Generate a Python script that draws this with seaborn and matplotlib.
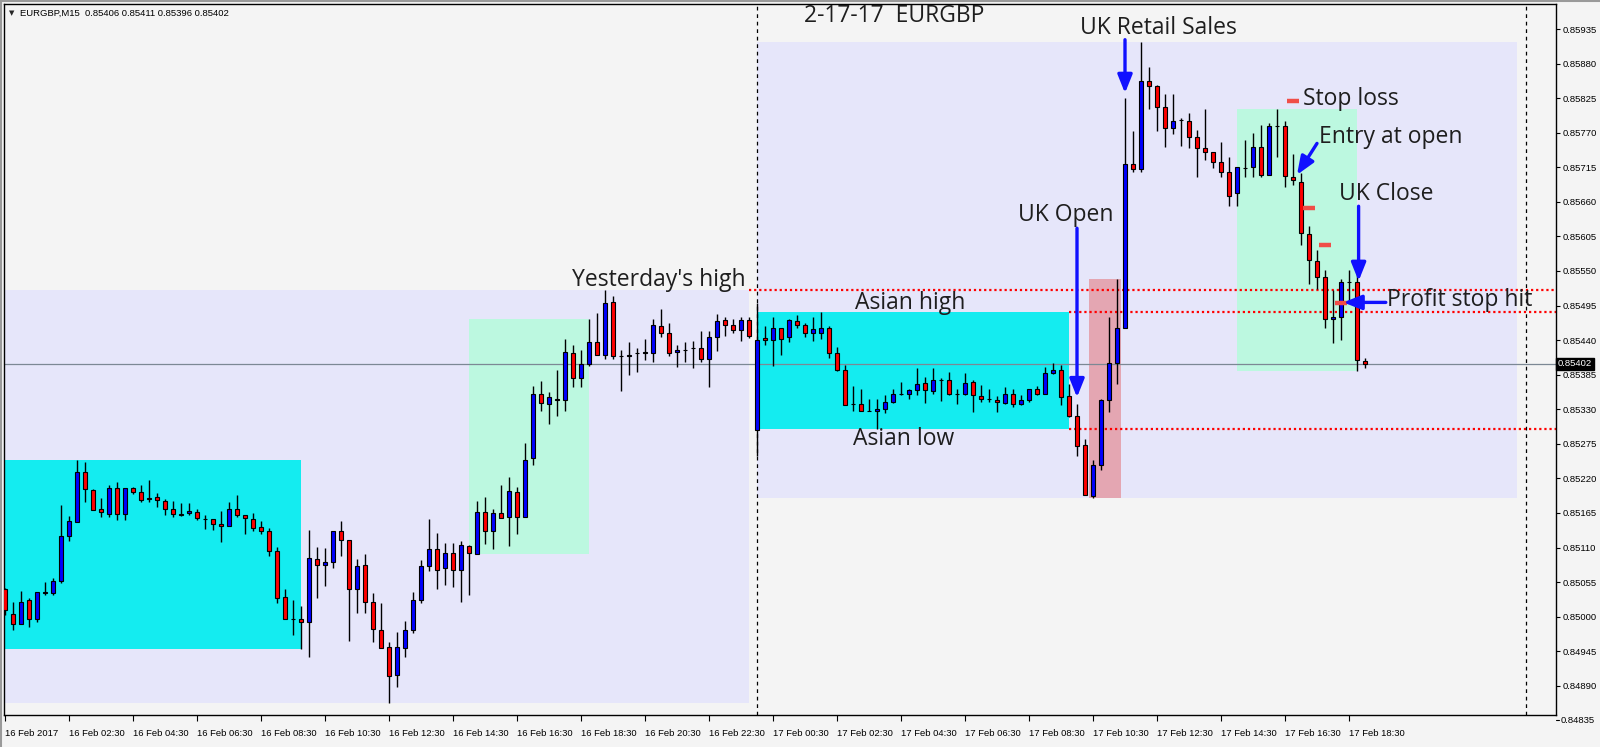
import matplotlib
matplotlib.use('Agg')
import matplotlib.pyplot as plt
import matplotlib.transforms as mtransforms
from matplotlib.lines import Line2D
import numpy as np
import pandas as pd
import seaborn as sns

# ── Data: EURGBP M15 candles, 16 Feb 00:30 -> 17 Feb 19:00 ────────────────────
open_ = [0.85044, 0.85005, 0.84988, 0.85026, 0.84996, 0.85037, 0.85037, 0.85056, 0.85129, 0.85151,
         0.85230, 0.85201, 0.85171, 0.85164, 0.85204, 0.85163, 0.85204, 0.85198, 0.85188, 0.85190,
         0.85184, 0.85171, 0.85161, 0.85165, 0.85166, 0.85155, 0.85155, 0.85148, 0.85144, 0.85171,
         0.85161, 0.85155, 0.85142, 0.85136, 0.85104, 0.85031, 0.84997, 0.84997, 0.84991, 0.85091,
         0.85082, 0.85087, 0.85136, 0.85122, 0.85044, 0.85082, 0.85024, 0.84978, 0.84951, 0.84907,
         0.84950, 0.84978, 0.85026, 0.85080, 0.85107, 0.85077, 0.85102, 0.85075, 0.85112, 0.85100,
         0.85166, 0.85136, 0.85165, 0.85158, 0.85198, 0.85158, 0.85252, 0.85355, 0.85338, 0.85347,
         0.85344, 0.85419, 0.85379, 0.85402, 0.85437, 0.85417, 0.85500, 0.85414, 0.85414, 0.85419,
         0.85419, 0.85419, 0.85462, 0.85452, 0.85421, 0.85425, 0.85427, 0.85427, 0.85410, 0.85445,
         0.85472, 0.85464, 0.85456, 0.85472, 0.85297, 0.85443, 0.85440, 0.85459, 0.85445, 0.85470,
         0.85464, 0.85452, 0.85452, 0.85459, 0.85419, 0.85392, 0.85338, 0.85338, 0.85328, 0.85327,
         0.85330, 0.85341, 0.85355, 0.85355, 0.85360, 0.85371, 0.85359, 0.85377, 0.85376, 0.85355,
         0.85355, 0.85373, 0.85351, 0.85347, 0.85344, 0.85340, 0.85355, 0.85338, 0.85344, 0.85362,
         0.85354, 0.85387, 0.85392, 0.85351, 0.85319, 0.85273, 0.85192, 0.85241, 0.85344, 0.85403,
         0.85460, 0.85720, 0.85712, 0.85853, 0.85845, 0.85811, 0.85777, 0.85790, 0.85789, 0.85763,
         0.85745, 0.85739, 0.85723, 0.85707, 0.85674, 0.85714, 0.85715, 0.85748, 0.85703, 0.85780,
         0.85780, 0.85700, 0.85691, 0.85609, 0.85566, 0.85541, 0.85474, 0.85476, 0.85533, 0.85533,
         0.85406]
high_ = [0.85045, 0.85023, 0.85041, 0.85030, 0.85040, 0.85055, 0.85061, 0.85178, 0.85160, 0.85249,
         0.85246, 0.85203, 0.85188, 0.85210, 0.85214, 0.85204, 0.85206, 0.85210, 0.85218, 0.85197,
         0.85187, 0.85184, 0.85181, 0.85181, 0.85172, 0.85162, 0.85155, 0.85168, 0.85183, 0.85194,
         0.85161, 0.85165, 0.85152, 0.85141, 0.85111, 0.85044, 0.85027, 0.85017, 0.85138, 0.85111,
         0.85109, 0.85136, 0.85152, 0.85122, 0.85092, 0.85100, 0.85037, 0.85022, 0.84960, 0.84976,
         0.84993, 0.85039, 0.85090, 0.85156, 0.85133, 0.85117, 0.85117, 0.85120, 0.85114, 0.85184,
         0.85191, 0.85171, 0.85210, 0.85222, 0.85207, 0.85277, 0.85367, 0.85375, 0.85357, 0.85393,
         0.85441, 0.85433, 0.85425, 0.85473, 0.85483, 0.85520, 0.85510, 0.85424, 0.85437, 0.85427,
         0.85441, 0.85473, 0.85489, 0.85467, 0.85432, 0.85437, 0.85438, 0.85454, 0.85454, 0.85481,
         0.85476, 0.85473, 0.85476, 0.85476, 0.85499, 0.85462, 0.85476, 0.85459, 0.85473, 0.85480,
         0.85468, 0.85476, 0.85484, 0.85462, 0.85429, 0.85400, 0.85367, 0.85362, 0.85346, 0.85347,
         0.85352, 0.85363, 0.85373, 0.85363, 0.85395, 0.85381, 0.85395, 0.85379, 0.85390, 0.85363,
         0.85387, 0.85376, 0.85368, 0.85362, 0.85351, 0.85365, 0.85363, 0.85352, 0.85363, 0.85367,
         0.85397, 0.85403, 0.85400, 0.85370, 0.85339, 0.85282, 0.85249, 0.85346, 0.85477, 0.85538,
         0.85825, 0.85773, 0.85915, 0.85874, 0.85846, 0.85831, 0.85831, 0.85793, 0.85801, 0.85774,
         0.85807, 0.85740, 0.85755, 0.85732, 0.85715, 0.85758, 0.85769, 0.85783, 0.85785, 0.85807,
         0.85789, 0.85736, 0.85706, 0.85621, 0.85584, 0.85551, 0.85520, 0.85538, 0.85552, 0.85552,
         0.85411]
low_ = [0.85003, 0.84978, 0.84988, 0.84983, 0.84992, 0.85035, 0.85035, 0.85054, 0.85121, 0.85150,
        0.85183, 0.85169, 0.85158, 0.85159, 0.85154, 0.85153, 0.85195, 0.85183, 0.85183, 0.85175,
        0.85161, 0.85159, 0.85160, 0.85162, 0.85153, 0.85140, 0.85138, 0.85119, 0.85144, 0.85159,
        0.85131, 0.85137, 0.85132, 0.85096, 0.85021, 0.84997, 0.84970, 0.84949, 0.84935, 0.85030,
        0.85049, 0.85078, 0.85096, 0.84962, 0.85006, 0.85006, 0.84960, 0.84950, 0.84863, 0.84888,
        0.84936, 0.84974, 0.85021, 0.85072, 0.85044, 0.85051, 0.85047, 0.85024, 0.85035, 0.85099,
        0.85116, 0.85107, 0.85157, 0.85113, 0.85132, 0.85158, 0.85242, 0.85328, 0.85307, 0.85320,
        0.85328, 0.85366, 0.85366, 0.85399, 0.85416, 0.85410, 0.85410, 0.85359, 0.85384, 0.85390,
        0.85408, 0.85405, 0.85445, 0.85414, 0.85398, 0.85405, 0.85395, 0.85405, 0.85365, 0.85422,
        0.85446, 0.85451, 0.85438, 0.85443, 0.85255, 0.85432, 0.85399, 0.85416, 0.85437, 0.85459,
        0.85445, 0.85438, 0.85441, 0.85411, 0.85391, 0.85336, 0.85328, 0.85327, 0.85327, 0.85298,
        0.85324, 0.85340, 0.85352, 0.85346, 0.85352, 0.85340, 0.85355, 0.85343, 0.85352, 0.85338,
        0.85352, 0.85325, 0.85341, 0.85341, 0.85325, 0.85338, 0.85333, 0.85336, 0.85341, 0.85352,
        0.85354, 0.85386, 0.85336, 0.85317, 0.85256, 0.85194, 0.85188, 0.85234, 0.85325, 0.85370,
        0.85460, 0.85708, 0.85708, 0.85808, 0.85773, 0.85747, 0.85768, 0.85749, 0.85745, 0.85700,
        0.85727, 0.85714, 0.85700, 0.85654, 0.85654, 0.85700, 0.85700, 0.85700, 0.85702, 0.85731,
        0.85684, 0.85687, 0.85591, 0.85530, 0.85521, 0.85460, 0.85435, 0.85440, 0.85500, 0.85391,
        0.85396]
close_ = [0.85011, 0.84989, 0.85024, 0.84996, 0.85039, 0.85039, 0.85056, 0.85129, 0.85152, 0.85230,
          0.85203, 0.85170, 0.85166, 0.85204, 0.85163, 0.85204, 0.85199, 0.85186, 0.85187, 0.85185,
          0.85171, 0.85163, 0.85164, 0.85168, 0.85157, 0.85155, 0.85147, 0.85144, 0.85171, 0.85161,
          0.85157, 0.85141, 0.85137, 0.85104, 0.85029, 0.84997, 0.84997, 0.84991, 0.85093, 0.85082,
          0.85087, 0.85136, 0.85122, 0.85044, 0.85080, 0.85024, 0.84980, 0.84950, 0.84905, 0.84951,
          0.84979, 0.85027, 0.85080, 0.85107, 0.85075, 0.85101, 0.85075, 0.85114, 0.85102, 0.85166,
          0.85136, 0.85165, 0.85157, 0.85200, 0.85158, 0.85250, 0.85355, 0.85340, 0.85349, 0.85344,
          0.85421, 0.85379, 0.85402, 0.85437, 0.85417, 0.85499, 0.85414, 0.85414, 0.85417, 0.85419,
          0.85421, 0.85464, 0.85452, 0.85419, 0.85425, 0.85425, 0.85427, 0.85410, 0.85445, 0.85470,
          0.85464, 0.85456, 0.85472, 0.85446, 0.85440, 0.85440, 0.85460, 0.85441, 0.85472, 0.85464,
          0.85452, 0.85457, 0.85460, 0.85419, 0.85393, 0.85336, 0.85338, 0.85328, 0.85328, 0.85330,
          0.85341, 0.85355, 0.85355, 0.85360, 0.85370, 0.85360, 0.85376, 0.85377, 0.85355, 0.85355,
          0.85371, 0.85352, 0.85347, 0.85347, 0.85341, 0.85355, 0.85338, 0.85344, 0.85362, 0.85355,
          0.85387, 0.85392, 0.85349, 0.85320, 0.85272, 0.85194, 0.85241, 0.85345, 0.85403, 0.85460,
          0.85720, 0.85712, 0.85853, 0.85845, 0.85811, 0.85777, 0.85789, 0.85790, 0.85763, 0.85745,
          0.85739, 0.85723, 0.85707, 0.85669, 0.85715, 0.85714, 0.85748, 0.85702, 0.85780, 0.85780,
          0.85701, 0.85694, 0.85610, 0.85568, 0.85541, 0.85474, 0.85476, 0.85533, 0.85533, 0.85408,
          0.85402]

FIRST_BAR = '2017-02-16 00:30'

# trailing stop markers (bar time, stop price)
stop_times = ['2017-02-17 16:45', '2017-02-17 17:15', '2017-02-17 17:45', '2017-02-17 18:15']
stop_prices = [0.85820, 0.85650, 0.85591, 0.85499]

x_tick_labels = ['16 Feb 2017', '16 Feb 02:30', '16 Feb 04:30', '16 Feb 06:30', '16 Feb 08:30',
                 '16 Feb 10:30', '16 Feb 12:30', '16 Feb 14:30', '16 Feb 16:30', '16 Feb 18:30',
                 '16 Feb 20:30', '16 Feb 22:30', '17 Feb 00:30', '17 Feb 02:30', '17 Feb 04:30',
                 '17 Feb 06:30', '17 Feb 08:30', '17 Feb 10:30', '17 Feb 12:30', '17 Feb 14:30',
                 '17 Feb 16:30', '17 Feb 18:30']
y_tick_values = [0.84835, 0.84890, 0.84945, 0.85000, 0.85055, 0.85110, 0.85165, 0.85220,
                 0.85275, 0.85330, 0.85385, 0.85440, 0.85495, 0.85550, 0.85605, 0.85660,
                 0.85715, 0.85770, 0.85825, 0.85880, 0.85935]

# ── Style ─────────────────────────────────────────────────────────────────────
BG = '#F4F4F4'
LAVENDER = '#E6E6FA'
CYAN = '#14ECF0'
MINT = '#BCF8E0'
PINK = '#E4A6B2'
BLUE = '#0000FF'
RED = '#FF0000'
ARROW = '#1010FF'
STOP = '#F04E48'
TXT = '#1E1E1E'

sns.set_theme(style='white')
plt.rcParams['font.family'] = ['Liberation Sans', 'DejaVu Sans']
ANN_FONT = ['Open Sans', 'DejaVu Sans']
ANN_SIZE = 16.5

o, h, l, c = map(np.array, (open_, high_, low_, close_))
x = np.arange(len(o))
t0 = pd.Timestamp(FIRST_BAR)


def pos(ts):
    return (pd.Timestamp(ts) - t0) / pd.Timedelta('15min')


def session(start, end):
    """x-extent of a box plus hi/lo of the bars after its start bar."""
    a, b = pos(start), pos(end)
    m = (x > a) & (x <= b)
    return a, b, h[m].max(), l[m].min()


fig = plt.figure(figsize=(16, 7.47), dpi=100, facecolor=BG)
ax = fig.add_axes([4 / 1600, 1 - 715 / 747, 1552 / 1600, 711 / 747])
ax.set_facecolor(BG)
YMIN, YMAX = 0.848435, 0.859748
XMIN, XMAX = -0.125, 193.875
ax.set_xlim(XMIN, XMAX)
ax.set_ylim(YMIN, YMAX)

# day ranges
for d in ['2017-02-16', '2017-02-17']:
    a, b, hi, lo = session(d + ' 00:00', d + ' 23:45')
    if d.endswith('16'):
        day16_end, yest_high = b, hi
    ax.add_patch(plt.Rectangle((a, lo), b - a, hi - lo, color=LAVENDER, lw=0, zorder=0))

# Asian sessions and afternoon sessions
for d in ['2017-02-16', '2017-02-17']:
    a, b, hi, lo = session(d + ' 00:00', d + ' 09:45')
    ax.add_patch(plt.Rectangle((a, lo), b - a, hi - lo, color=CYAN, lw=0, zorder=1))
    if d.endswith('17'):
        asia_end, asia_hi, asia_lo = b, hi, lo
    a, b, hi, lo = session(d + ' 15:00', d + ' 18:45')
    ax.add_patch(plt.Rectangle((a, lo), b - a, hi - lo, color=MINT, lw=0, zorder=1))

# retail-sales news window
a, b = pos('2017-02-17 10:30'), pos('2017-02-17 11:15')
m = (x >= a) & (x <= b)
ax.add_patch(plt.Rectangle((a - 0.5, l[m].min()), b - a + 1, h[m].max() - l[m].min(),
                           color=PINK, lw=0, zorder=1.5))

# levels
dot = (0, (1, 1.3))
ax.hlines(yest_high, day16_end, XMAX, colors=RED, linestyles=dot, lw=1.6, zorder=2)
ax.hlines([asia_hi, asia_lo], asia_end, XMAX, colors=RED, linestyles=dot, lw=1.6, zorder=2)
ax.axhline(c[-1], color='#7C8894', lw=0.9, zorder=2)
ax.axvline(pos('2017-02-17 00:00'), color='black', ls=(0, (3, 3)), lw=0.9, zorder=2.5)
ax.axvline(190.1, color='black', ls=(0, (3, 3)), lw=0.9, zorder=2.5)

# candles
up = c > o
ax.vlines(x, l, h, color='black', lw=1, zorder=4)
ax.bar(x, np.abs(c - o), bottom=np.minimum(o, c), width=0.6,
       color=np.where(up, BLUE, RED), edgecolor='black', linewidth=0.8, zorder=5)

# trailing stop markers
sp = np.array([pos(t) for t in stop_times])
ax.hlines(stop_prices, sp - 0.7, sp + 0.7, colors=STOP, lw=3.2, zorder=6)

# arrows
arrows = [((140, 0.85918), (140, 0.85833)),
          ((134, 0.85618), (134, 0.85349)),
          ((169.2, 0.85653), (169.2, 0.85534)),
          ((164.0, 0.85753), (161.5, 0.85703)),
          ((172.6, 0.85500), (167.3, 0.85500))]
for start, tip in arrows:
    ax.annotate('', xy=tip, xytext=start, zorder=7,
                arrowprops=dict(arrowstyle='-|>,head_length=0.55,head_width=0.22',
                                color=ARROW, lw=2.4, mutation_scale=20,
                                shrinkA=0, shrinkB=0))

# labels
labels = [(99.9, 0.85956, '2-17-17  EURGBP'),
          (134.4, 0.85937, 'UK Retail Sales'),
          (162.25, 0.85824, 'Stop loss'),
          (164.25, 0.85763, 'Entry at open'),
          (166.75, 0.85672, 'UK Close'),
          (126.6, 0.85639, 'UK Open'),
          (70.9, 0.85536, "Yesterday's high"),
          (106.25, 0.85499, 'Asian high'),
          (106.0, 0.85283, 'Asian low'),
          (172.75, 0.85504, 'Profit stop hit')]
for lx, ly, s in labels:
    ax.text(lx, ly, s, family=ANN_FONT, fontsize=ANN_SIZE, color=TXT,
            ha='left', va='center', zorder=8)

# axes / ticks
for sp_ in ax.spines.values():
    sp_.set_color('black')
    sp_.set_linewidth(1)
ax.yaxis.tick_right()
ax.set_yticks([v for v in y_tick_values if v >= YMIN])
ax.set_yticklabels([f'{v:.5f}' for v in y_tick_values if v >= YMIN])
ax.tick_params(axis='y', direction='out', length=3, width=0.8, pad=2,
               labelsize=6.8, colors='black', right=True, left=False)
ax.set_xticks(x[::8])
ax.set_xticklabels(x_tick_labels, ha='left')
ax.tick_params(axis='x', direction='out', length=4, width=0.8, pad=6,
               labelsize=6.8, colors='black', bottom=True)
ax.grid(False)

blend = mtransforms.blended_transform_factory(ax.transAxes, ax.transData)
low_tick = y_tick_values[0]
ax.plot([1, 1 + 3 / 1552], [low_tick, low_tick], transform=blend, clip_on=False,
        color='black', lw=0.8)
ax.text(1 + 5 / 1552, low_tick, f'{low_tick:.5f}', transform=blend, clip_on=False,
        fontsize=6.8, va='center', ha='left', color='black')
ax.text(1 + 2 / 1552, c[-1], f'{c[-1]:.5f}', transform=blend, clip_on=False,
        fontsize=6.8, va='center', ha='left', color='white', zorder=10,
        bbox=dict(facecolor='black', edgecolor='black', pad=1.2))

# header
fig.text(9 / 1600, 1 - 13 / 747, '▼', family='DejaVu Sans', fontsize=5, va='center')
fig.text(20 / 1600, 1 - 13 / 747,
         f'EURGBP,M15  {o[-1]:.5f} {h[-1]:.5f} {l[-1]:.5f} {c[-1]:.5f}',
         fontsize=6.8, va='center', color='black')

# window frame (left / top edges)
fig.add_artist(Line2D([0.0006, 0.0006], [0, 1], transform=fig.transFigure,
                      color='#9A9A9A', lw=1.5))
fig.add_artist(Line2D([0, 1], [0.9992, 0.9992], transform=fig.transFigure,
                      color='#9A9A9A', lw=1.5))

fig.savefig('out.png', dpi=100, facecolor=BG)
